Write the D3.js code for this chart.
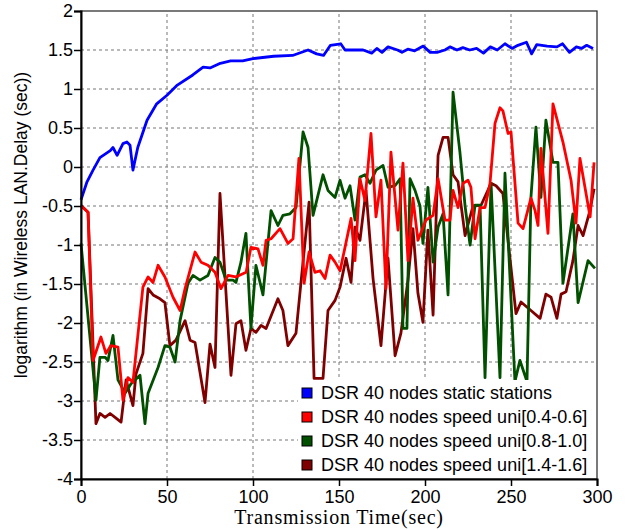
<!DOCTYPE html>
<html>
<head>
<meta charset="utf-8">
<script src="https://cdn.jsdelivr.net/npm/d3@7"></script>
<style>
  body { margin: 0; background: #fff; }
  text { font-family: "Liberation Sans", Arial, sans-serif; }
</style>
</head>
<body>
<div id="chart"></div>
<script>
// tick values
var xTicks = [0, 50, 100, 150, 200, 250, 300];
var yTicks = [2, 1.5, 1, 0.5, 0, -0.5, -1, -1.5, -2, -2.5, -3, -3.5, -4];

// DSR 40 nodes static stations
var staticT = [0, 3.5, 7, 11, 17, 18.6, 21, 24.4, 26.7, 28.5, 30.2, 33, 38.4, 44, 50, 56, 65, 71, 75, 81, 87, 94, 100, 112, 123, 132, 137, 141, 145, 151,
  153.5, 160.5, 164, 169, 172, 175, 178.5, 184, 186.6, 190, 194, 199, 203, 207, 211.6, 214.5, 218.6, 222, 226, 230, 234, 238, 242, 246.5, 250.6,
  254, 259, 262, 265, 271, 276.7, 280, 284, 288, 291, 294, 297.7];
var staticV = [-0.42, -0.19, -0.04, 0.12, 0.21, 0.25, 0.15, 0.3, 0.32, 0.28, -0.04, 0.25, 0.6, 0.81, 0.92, 1.05, 1.18, 1.28, 1.27, 1.33, 1.36, 1.36, 1.39, 1.42, 1.43, 1.5, 1.45, 1.43, 1.56, 1.58,
  1.5, 1.5, 1.5, 1.46, 1.52, 1.47, 1.54, 1.5, 1.47, 1.51, 1.49, 1.55, 1.47, 1.47, 1.5, 1.54, 1.5, 1.53, 1.5, 1.52, 1.46, 1.54, 1.5, 1.58, 1.52,
  1.56, 1.6, 1.45, 1.57, 1.55, 1.54, 1.58, 1.47, 1.54, 1.52, 1.56, 1.52];

// DSR 40 nodes speed uni[0.4-0.6]
var slowT = [0, 4.1, 7, 11.6, 14.5, 17.4, 21.5, 24.4, 27.3, 30.2, 36, 39, 41.9, 44.8, 48.8, 53.5, 57.6, 60.5, 66.3, 69.8, 73.8, 77.9, 81.4, 85.5, 90, 96,
  98.8, 102.9, 105.8, 107.6, 110.5, 115.7, 120.3, 123.3, 126.7, 129.7, 132.6, 136, 139, 141.9, 144.8, 147.7, 150.6, 153.5, 157, 159.3, 162.2,
  165.1, 168.6, 171.5, 174.4, 177.3, 180.2, 184.3, 187.2, 190.1, 193, 195.9, 200.6, 204.7, 207.6, 211.6, 214.5, 216.3, 219.2, 222.1, 225,
  226.7, 229.1, 232, 234.9, 237.8, 240.7, 243.6, 245.3, 248.3, 250, 254.1, 257, 261.6, 264, 265.7, 267.4, 271.5, 274.4, 280.2, 284.9, 287.8,
  290.1, 296, 298.3];
var slowV = [-0.5, -0.58, -2.48, -2.18, -2.39, -2.29, -2.31, -2.99, -2.7, -2.76, -1.54, -1.41, -1.48, -1.26, -1.41, -1.67, -1.84, -1.56, -1.09, -1.22, -1.26, -1.35, -1.56, -1.39, -1.41, -1.35,
  -1.03, -1.05, -1.26, -0.94, -0.92, -0.79, -0.98, -0.92, 0.11, -1.49, -1.09, -1.35, -1.33, -1.43, -1.13, -1.22, -1.33, -1.03, -0.66, -1.2, -0.15,
  -0.43, 0.43, -0.64, -0.17, -1.56, 0.19, -0.81, 0.05, -1.2, -0.4, -0.94, -0.68, -0.62, -0.15, -0.68, -0.68, -0.3, -0.52, -0.21, -0.17,
  -0.26, -0.92, -0.52, -0.52, -0.21, 0.56, 0.76, 0.72, 0.43, 0.45, -0.72, -0.79, -0.4, -0.56, -0.75, 0.24, -0.85, 0.81, 0.32, -0.17, -0.72,
  0.11, -0.64, 0.06];

// DSR 40 nodes speed uni[0.8-1.0]
var midT = [0, 8.7, 11, 14, 15.7, 18.6, 21.5, 25.6, 29.1, 34.3, 37.2, 39, 44.8, 48.8, 51.7, 54.7, 57.6, 62.2, 65.1, 69.2, 73.8, 77.9, 80.8, 84.3, 88.4,
  90.1, 93, 95.9, 98.8, 101.7, 105.8, 110.5, 114.5, 117.4, 121.5, 125, 129.1, 132, 134.9, 140.7, 143.6, 147.7, 150.6, 153.5, 156.4, 159.3,
  162.2, 165.1, 168, 171.5, 175.6, 178.5, 182.6, 185.5, 187.2, 189.5, 191.3, 194.2, 197.1, 198.8, 201.7, 204.7, 207.6, 210.5, 213.4, 216.3,
  220.3, 223.3, 226.2, 229.1, 232, 234.9, 238.4, 243.6, 246.5, 252.3, 255.2, 259.3, 261.6, 264.5, 267.4, 270.3, 274.4, 277.3, 280.2, 286,
  289, 294.8, 298.8];
var midV = [-0.98, -2.99, -2.44, -2.44, -2.48, -2.16, -2.73, -2.9, -2.78, -2.67, -3.29, -2.9, -2.57, -2.29, -2.31, -2.5, -1.97, -1.49, -1.39, -1.45, -1.39, -1.16, -1.22, -1.45, -1.45,
  -1.48, -1.22, -0.85, -2.07, -1.26, -1.64, -0.56, -0.75, -0.62, -0.6, -0.52, 0.45, 0.25, -0.62, -0.1, -0.3, -0.39, -0.17, -0.4, -0.24, -0.68,
  -0.13, -0.1, -0.21, -0.04, 0.02, -0.26, -0.24, -0.15, -2.07, -2.07, -0.15, -0.3, -0.5, -0.98, -0.26, -1.22, -0.77, -0.6, -1.64, 0.96,
  0.19, -0.5, -1.0, -0.49, -0.49, -2.7, -0.21, -2.7, -0.08, -2.75, -2.48, -2.75, -0.39, 0.51, -0.39, 0.6, 0.06, 0.06, -1.49, -0.6,
  -1.74, -1.2, -1.3];

// DSR 40 nodes speed uni[1.4-1.6]
var fastT = [0, 4.1, 8.7, 11, 14, 16.9, 19.8, 23.3, 26.2, 30.2, 32, 36, 39, 41.9, 45.9, 48.8, 51.7, 55.2, 60.5, 63.4, 66.3, 72.1, 75, 77.9, 80.8, 87.2,
  90.1, 93, 95.9, 98.8, 101.7, 104.7, 107.6, 114.5, 117.4, 120.3, 125, 127.9, 132.6, 135.5, 140.7, 143.6, 147.7, 150.6, 154.1, 157, 159.3,
  162.2, 165.7, 169.8, 174.4, 178.5, 182.6, 186, 190.1, 193, 195.9, 198.8, 201.7, 204.7, 207.6, 210.5, 213.4, 216.3, 219.2, 223.3, 227.9,
  232.6, 238.4, 241.3, 245.3, 252.9, 255.8, 261.6, 266.9, 270.3, 273.3, 276.7, 279.1, 282, 286, 289, 291.9, 295.9, 298.3];
var fastV = [-0.49, -0.58, -3.29, -3.16, -3.21, -3.16, -3.21, -3.27, -2.73, -3.06, -2.65, -2.39, -1.56, -1.64, -1.69, -1.74, -2.29, -2.22, -1.97, -2.22, -2.25, -3.02, -2.27, -2.57, -0.34, -2.67,
  -2.01, -1.97, -2.35, -2.07, -2.12, -2.03, -2.07, -1.69, -1.84, -2.29, -2.13, -1.48, -0.45, -2.71, -2.71, -1.84, -1.71, -1.54, -1.17, -1.48, -0.77,
  -0.94, -0.3, -1.43, -2.29, -1.17, -2.42, -2.13, -1.45, -0.79, -1.62, -1.99, -0.81, -1.9, 0.15, 0.38, 0.38, -0.1, -0.19, -0.88, -0.5,
  -0.49, -0.21, -0.24, -0.34, -1.88, -1.73, -1.84, -1.94, -1.63, -1.67, -1.94, -1.63, -1.6, -1.2, -0.75, -0.88, -0.56, -0.28];

var seriesNames = ['DSR 40 nodes static stations', 'DSR 40 nodes speed uni[0.4-0.6]',
  'DSR 40 nodes speed uni[0.8-1.0]', 'DSR 40 nodes speed uni[1.4-1.6]'];
var colors = ['#0000ff', '#ff0000', '#005000', '#800000'];

function drawChart() {
  var width = 627, height = 530;
  var x0 = 81, x1 = 597, y0 = 479, y1 = 11;

  var svg = d3.select('#chart').append('svg')
    .attr('width', width)
    .attr('height', height);

  var xScale = d3.scaleLinear().domain([0, 300]).range([x0, x1]);
  var yScale = d3.scaleLinear().domain([-4, 2]).range([y0, y1]);

  // grid
  var grid = svg.append('g').classed('grid', true);
  grid.selectAll('.hgrid')
    .data(yTicks.slice(1, -1))
    .enter().append('line')
    .attr('x1', x0).attr('x2', x1)
    .attr('y1', function (d) { return yScale(d); })
    .attr('y2', function (d) { return yScale(d); })
    .style('stroke', '#777')
    .style('stroke-dasharray', '3,3');
  grid.selectAll('.vgrid')
    .data(xTicks.slice(1, -1))
    .enter().append('line')
    .attr('y1', y0).attr('y2', y1)
    .attr('x1', function (d) { return xScale(d); })
    .attr('x2', function (d) { return xScale(d); })
    .style('stroke', '#777')
    .style('stroke-dasharray', '3,3');

  // lines
  var line = d3.line()
    .x(function (d) { return xScale(d[0]); })
    .y(function (d) { return yScale(d[1]); });

  var series = [
    { t: staticT, v: staticV, c: colors[0] },
    { t: slowT, v: slowV, c: colors[1] },
    { t: midT, v: midV, c: colors[2] },
    { t: fastT, v: fastV, c: colors[3] }
  ];
  var drawOrder = [3, 2, 1, 0];

  drawOrder.forEach(function (i) {
    var s = series[i];
    svg.append('path')
      .datum(d3.zip(s.t, s.v))
      .attr('d', line)
      .style('fill', 'none')
      .style('stroke', s.c)
      .style('stroke-width', 2.8)
      .style('stroke-linejoin', 'round');
  });

  // legend
  var lg = svg.append('g').classed('legend', true);
  lg.append('rect')
    .attr('x', 298).attr('y', 380)
    .attr('width', x1 - 298).attr('height', y0 - 380)
    .style('fill', '#fff');
  seriesNames.forEach(function (name, i) {
    var ly = 393 + i * 24;
    lg.append('rect')
      .attr('x', 302).attr('y', ly - 5)
      .attr('width', 10).attr('height', 10)
      .style('fill', colors[i])
      .style('stroke', '#000')
      .style('stroke-width', 1);
    lg.append('text')
      .attr('x', 321).attr('y', ly)
      .attr('dy', '0.35em')
      .style('font-size', '18px')
      .text(name);
  });

  // frame
  svg.append('rect')
    .attr('x', x0).attr('y', y1)
    .attr('width', x1 - x0).attr('height', y0 - y1)
    .style('fill', 'none')
    .style('stroke', '#222')
    .style('stroke-width', 1.2);

  // axes
  var yAxis = d3.axisLeft(yScale).tickValues(yTicks).tickSize(7).tickFormat(function (d) { return d; });
  var xAxis = d3.axisBottom(xScale).tickValues(xTicks).tickSize(7);

  var yg = svg.append('g').attr('transform', 'translate(' + x0 + ',0)').call(yAxis);
  var xg = svg.append('g').attr('transform', 'translate(0,' + y0 + ')').call(xAxis);

  [yg, xg].forEach(function (g) {
    g.select('.domain').style('stroke', '#000').style('stroke-width', 2);
    g.selectAll('.tick line').style('stroke', '#000').style('stroke-width', 1.5);
    g.selectAll('.tick text')
      .style('font-family', '"Liberation Sans", Arial, sans-serif')
      .style('font-size', '18px')
      .style('fill', '#000');
  });
  yg.selectAll('.tick text').attr('x', -8);
  xg.selectAll('.tick text').attr('y', 11);

  // axis titles
  svg.append('text')
    .attr('x', (x0 + x1) / 2)
    .attr('y', 524)
    .attr('text-anchor', 'middle')
    .style('font-family', '"Liberation Serif", "Times New Roman", serif')
    .style('font-size', '20px')
    .style('letter-spacing', '0.8px')
    .text('Transmission Time(sec)');

  svg.append('text')
    .attr('transform', 'translate(27,' + 225 + ') rotate(-90)')
    .attr('text-anchor', 'middle')
    .style('font-size', '17.5px')
    .text('logarithm (in Wireless LAN.Delay (sec))');
}

drawChart();
</script>
</body>
</html>
